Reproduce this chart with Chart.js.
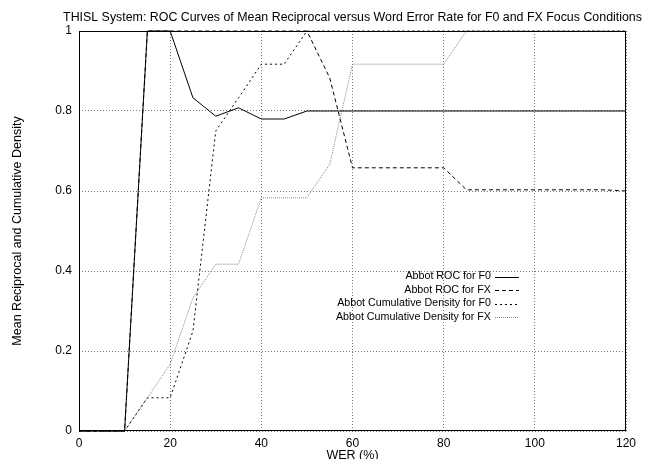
<!DOCTYPE html>
<html>
<head>
<meta charset="utf-8">
<script src="https://cdn.jsdelivr.net/npm/chart.js@4/dist/chart.umd.min.js"></script>
<style>
  html, body { margin: 0; padding: 0; background: #fff; }
  canvas { display: block; }
</style>
</head>
<body>
<canvas id="chart" width="645" height="459"></canvas>
<script>
const FONT = '"Liberation Sans", Arial, Helvetica, sans-serif';

const wer = [0, 5, 10, 15, 20, 25, 30, 35, 40, 45, 50, 55, 60, 65, 70, 75, 80, 85, 90, 95, 100, 105, 110, 115, 120];

const rocF0 = [0, 0, 0, 1, 1, 0.833, 0.787, 0.808, 0.78, 0.78, 0.8, 0.8, 0.8, 0.8, 0.8, 0.8, 0.8, 0.8, 0.8, 0.8, 0.8, 0.8, 0.8, 0.8, 0.8];
const rocFX = [0, 0, 0, 1, 1, 1, 1, 1, 1, 1, 1, 0.883, 0.658, 0.658, 0.658, 0.658, 0.658, 0.603, 0.603, 0.603, 0.603, 0.603, 0.603, 0.603, 0.6];
const cumF0 = [0, 0, 0, 0.083, 0.083, 0.25, 0.75, 0.833, 0.917, 0.917, 1, 1, 1, 1, 1, 1, 1, 1, 1, 1, 1, 1, 1, 1, 1];
const cumFX = [0, 0, 0, 0.083, 0.167, 0.333, 0.417, 0.417, 0.583, 0.583, 0.583, 0.667, 0.917, 0.917, 0.917, 0.917, 0.917, 1, 1, 1, 1, 1, 1, 1, 1];

const chartTitle = 'THISL System: ROC Curves of Mean Reciprocal versus Word Error Rate for F0 and FX Focus Conditions';
const xTitle = 'WER (%)';
const yTitle = 'Mean Reciprocal and Cumulative Density';

const toPoints = (ys) => wer.map((x, i) => ({ x, y: ys[i] }));

const series = (label, ys, color, dash) => ({
  label,
  data: toPoints(ys),
  borderColor: color,
  borderWidth: 1,
  borderDash: dash,
  pointRadius: 0,
  fill: false,
  tension: 0,
});

// gnuplot style key: right aligned text, line sample after it
const keyPlugin = {
  id: 'key',
  afterDatasetsDraw(chart) {
    const { ctx } = chart;
    const textRight = 491;
    const sampleLeft = 495;
    const sampleRight = 519;
    const firstRow = 276.5;
    const rowStep = 13.5;

    ctx.save();
    ctx.font = '10.7px ' + FONT;
    ctx.textAlign = 'right';
    ctx.textBaseline = 'middle';
    chart.data.datasets.forEach((ds, i) => {
      const y = firstRow + i * rowStep;
      ctx.fillStyle = '#000';
      ctx.fillText(ds.label, textRight, y);
      ctx.beginPath();
      ctx.setLineDash(ds.borderDash || []);
      ctx.strokeStyle = ds.borderColor;
      ctx.lineWidth = 1;
      ctx.moveTo(sampleLeft, Math.round(y) + 0.5);
      ctx.lineTo(sampleRight, Math.round(y) + 0.5);
      ctx.stroke();
    });
    ctx.restore();
  },
};

// title centred over the plot area, plus a closed frame
const framePlugin = {
  id: 'frame',
  afterDraw(chart) {
    const { ctx, chartArea: a } = chart;
    ctx.save();
    ctx.font = '12.4px ' + FONT;
    ctx.fillStyle = '#000';
    ctx.textAlign = 'center';
    ctx.textBaseline = 'middle';
    ctx.fillText(chartTitle, (a.left + a.right) / 2, 18);
    ctx.strokeStyle = '#000';
    ctx.lineWidth = 1;
    ctx.setLineDash([]);
    ctx.strokeRect(Math.round(a.left) + 0.5, Math.round(a.top) + 0.5, Math.round(a.right - a.left) - 1, Math.round(a.bottom - a.top) - 1);
    ctx.restore();
  },
};

const gridStyle = {
  color: '#777',
  lineWidth: 1,
  drawTicks: false,
};

new Chart(document.getElementById('chart'), {
  type: 'line',
  data: {
    datasets: [
      series('Abbot ROC for F0', rocF0, '#000', []),
      series('Abbot ROC for FX', rocFX, '#000', [4, 3]),
      series('Abbot Cumulative Density for F0', cumF0, '#000', [2, 3]),
      series('Abbot Cumulative Density for FX', cumFX, '#888', [1, 1]),
    ],
  },
  options: {
    responsive: false,
    animation: false,
    clip: false,
    layout: { padding: { top: 31, right: 19, bottom: 0, left: 0 } },
    plugins: {
      legend: { display: false },
      tooltip: { enabled: false },
    },
    scales: {
      x: {
        type: 'linear',
        min: 0,
        max: 120,
        afterFit: (s) => { s.height = 28; },
        border: { display: false, dash: [1, 2] },
        grid: gridStyle,
        ticks: { stepSize: 20, color: '#000', padding: 5.5, font: { family: FONT, size: 12 } },
        title: { display: true, text: xTitle, color: '#000', padding: { top: 0, bottom: -4 }, font: { family: FONT, size: 12.5 } },
      },
      y: {
        type: 'linear',
        min: 0,
        max: 1,
        afterFit: (s) => { s.width = 79; },
        border: { display: false, dash: [1, 2] },
        grid: gridStyle,
        ticks: {
          stepSize: 0.2,
          color: '#000',
          padding: 7,
          font: { family: FONT, size: 12 },
          callback: (v) => String(Number(v.toFixed(1))),
        },
        title: { display: true, text: yTitle, color: '#000', padding: { top: 10, bottom: 0 }, font: { family: FONT, size: 12.5 } },
      },
    },
  },
  plugins: [keyPlugin, framePlugin],
});
</script>
</body>
</html>
